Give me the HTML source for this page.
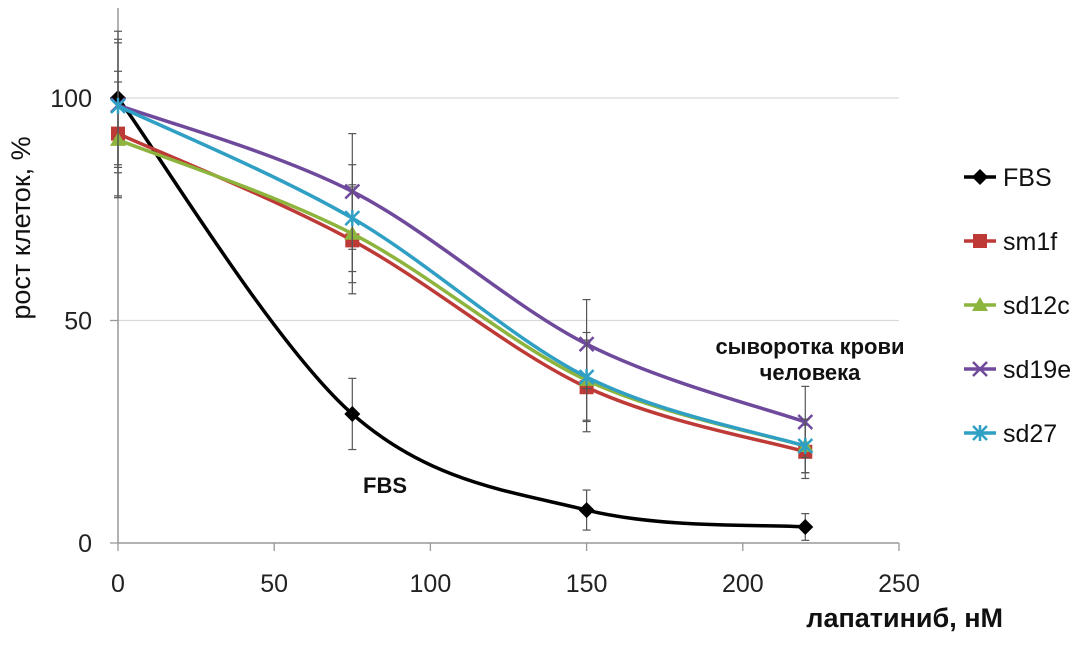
<!DOCTYPE html>
<html><head><meta charset="utf-8"><style>
body{margin:0;background:#fff}
text{font-family:"Liberation Sans","DejaVu Sans",sans-serif}
</style></head><body>
<svg id="c" width="1083" height="645"></svg>
<script>
const xVals=[0,75,150,220];
const seriesNames=["FBS","sm1f","sd12c","sd19e","sd27"];
const fbs=[100,29,7.4,3.6];
const sm1f=[92,68,35,20.5];
const sd12c=[90.6,69.5,36.6,21.8];
const sd19e=[98.4,79,44.7,27.2];
const sd27=[98.2,73,37.3,21.8];
const fbsErr=[15,8,4.5,3];
const sm1fErr=[14,12,10,6];
const sd12cErr=[13,11,9,6];
const sd19eErr=[14,13,10,8];
const sd27Err=[15,12,10,6];
const xTicks=[0,50,100,150,200,250];
const yTicks=[0,50,100];
const colors=["#000000","#be3a36","#8db43c","#6f4a9c","#2f9fc4"];
const NS="http://www.w3.org/2000/svg";
const svg=document.getElementById('c');
const X=v=>118+v*(899-118)/250;
const Y=v=>543-v*4.45;
function el(t,a,p){const e=document.createElementNS(NS,t);for(const k in a)e.setAttribute(k,a[k]);(p||svg).appendChild(e);return e;}
// grid
yTicks.forEach(t=>{if(t>0){const g=el('line',{x1:118,x2:899,y1:Y(t),y2:Y(t),stroke:'#d9d9d9','stroke-width':1.3});

}
const tl=el('text',{x:92,y:Y(t)+9,'text-anchor':'end','font-size':25,fill:'#222'});tl.textContent=t;


el('line',{x1:110,x2:118,y1:Y(t),y2:Y(t),stroke:'#999','stroke-width':1.3});});
el('line',{x1:118,x2:118,y1:8,y2:543,stroke:'#999','stroke-width':1.5});
el('line',{x1:118,x2:899,y1:543,y2:543,stroke:'#999','stroke-width':1.5});
xTicks.forEach(t=>{el('line',{x1:X(t),x2:X(t),y1:543,y2:551,stroke:'#999','stroke-width':1.3});
const tl=el('text',{x:X(t),y:592,'text-anchor':'middle','font-size':25,fill:'#222'});tl.textContent=t;

});
const yt=el('text',{x:0,y:0,transform:'translate(30,228) rotate(-90)','text-anchor':'middle','font-size':27,fill:'#111'});yt.textContent='рост клеток, %';


const xt=el('text',{x:1003,y:627,'text-anchor':'end','font-size':27,'font-weight':'bold',fill:'#111'});xt.textContent='лапатиниб, нМ';


function spline(pts){let d='M'+pts[0][0]+','+pts[0][1];const t=0.5/3*2;
for(let i=0;i<pts.length-1;i++){const p0=pts[i-1]||pts[i],p1=pts[i],p2=pts[i+1],p3=pts[i+2]||p2;
const c1=[p1[0]+(p2[0]-p0[0])*t/2,p1[1]+(p2[1]-p0[1])*t/2];const c2=[p2[0]-(p3[0]-p1[0])*t/2,p2[1]-(p3[1]-p1[1])*t/2];
d+=' C'+c1+' '+c2+' '+p2;}return d;}
function marker(k,x,y,c,g){if(k==0)el('path',{d:`M${x},${y-8}L${x+8},${y}L${x},${y+8}L${x-8},${y}Z`,fill:c},g);
else if(k==1)el('rect',{x:x-7,y:y-7,width:14,height:14,fill:c},g);
else if(k==2)el('path',{d:`M${x},${y-8}L${x+8},${y+6}L${x-8},${y+6}Z`,fill:c},g);
else if(k==3)el('path',{d:`M${x-7},${y-7}L${x+7},${y+7}M${x+7},${y-7}L${x-7},${y+7}`,stroke:c,'stroke-width':2.5},g);
else el('path',{d:`M${x-7},${y-7}L${x+7},${y+7}M${x+7},${y-7}L${x-7},${y+7}M${x},${y-8}L${x},${y+8}`,stroke:c,'stroke-width':2.5},g);}
const all=[fbs,sm1f,sd12c,sd19e,sd27],errs=[fbsErr,sm1fErr,sd12cErr,sd19eErr,sd27Err];
all.forEach((s,k)=>{const g=el('g',{});


s.forEach((v,i)=>{const x=X(xVals[i]);el('line',{x1:x,x2:x,y1:Y(v+errs[k][i]),y2:Y(v-errs[k][i]),stroke:'#555','stroke-width':1.2},g);
[v+errs[k][i],v-errs[k][i]].forEach(e=>el('line',{x1:x-4,x2:x+4,y1:Y(e),y2:Y(e),stroke:'#555','stroke-width':1.2},g));});
el('path',{d:spline(s.map((v,i)=>[X(xVals[i]),Y(v)])),fill:'none',stroke:colors[k],'stroke-width':3.5},g);
s.forEach((v,i)=>marker(k,X(xVals[i]),Y(v),colors[k],g));
// legend
const ly=177+k*64;const lg=el('g',{});


el('line',{x1:964,x2:996,y1:ly,y2:ly,stroke:colors[k],'stroke-width':3.5},lg);marker(k,980,ly,colors[k],lg);
const lt=el('text',{x:1003,y:ly+9,'font-size':25,fill:'#111'},lg);lt.textContent=seriesNames[k];});
const a1=el('text',{x:385,y:493,'text-anchor':'middle','font-size':22,'font-weight':'bold',fill:'#111'});a1.textContent='FBS';


const a2=el('text',{x:810,y:354,'text-anchor':'middle','font-size':22,'font-weight':'bold',fill:'#111'});a2.textContent='сыворотка крови';


const a3=el('text',{x:810,y:380,'text-anchor':'middle','font-size':22,'font-weight':'bold',fill:'#111'});a3.textContent='человека';


</script></body></html>
